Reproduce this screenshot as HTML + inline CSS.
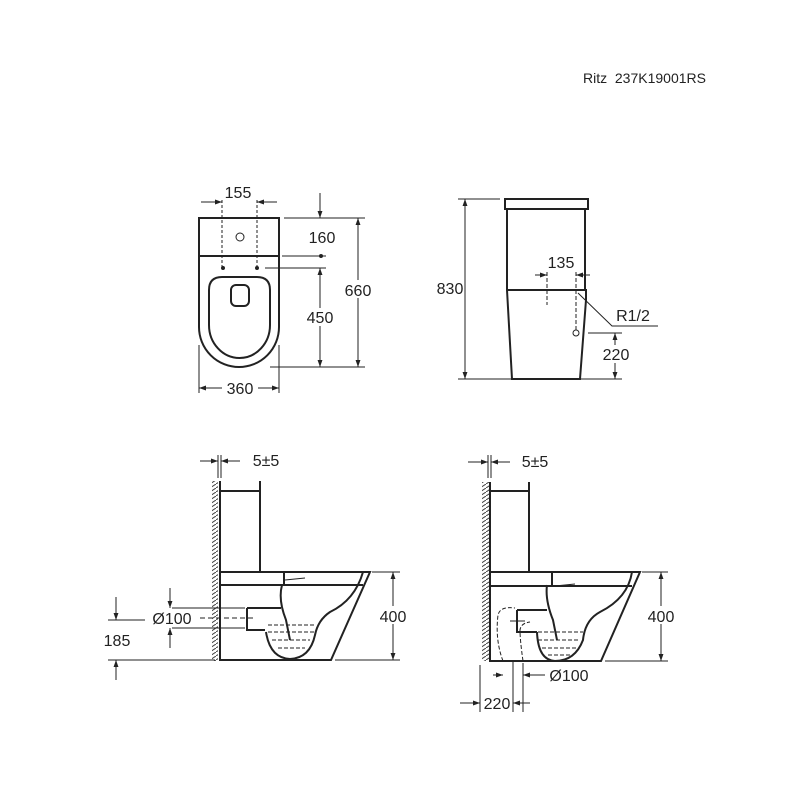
<!DOCTYPE html>
<html><head><meta charset="utf-8"><style>
html,body{margin:0;padding:0;background:#fff}
svg{display:block}
text{font-family:"Liberation Sans",Arial,sans-serif;fill:#222}
</style></head><body>
<svg width="800" height="800" viewBox="0 0 800 800" xmlns="http://www.w3.org/2000/svg">
<defs>
<marker id="a" viewBox="0 0 10 10" refX="10" refY="5" markerWidth="7" markerHeight="7" orient="auto-start-reverse"><path d="M0,1.5L10,5L0,8.5z" fill="#222"/></marker>
<pattern id="h" width="6" height="4" patternUnits="userSpaceOnUse"><path d="M0,4L6,0" stroke="#444" stroke-width="1"/></pattern>
</defs>
<text x="583" y="83" font-size="14" style="white-space:pre">Ritz  237K19001RS</text>

<g stroke="#222" fill="none" stroke-width="1">
<!-- Top view -->
<g stroke-width="2">
<path d="M199,218H279V327A40,40 0 0 1 199,327Z"/>
<line x1="199" y1="256" x2="279" y2="256"/>
<path d="M209,325V290Q209,277 222,277H257Q270,277 270,290V325A30.5,33 0 0 1 209,325Z"/>
<rect x="231" y="285" width="18" height="21" rx="5"/>
</g>
<circle cx="240" cy="237" r="4"/>
<path d="M222,200V268M257,200V268" stroke-dasharray="3,2"/>
<circle cx="223" cy="268" r="1.5" fill="#222"/><circle cx="257" cy="268" r="1.5" fill="#222"/>
<circle cx="321" cy="256" r="1.5" fill="#222"/>
<line x1="201" y1="202" x2="222" y2="202" marker-end="url(#a)"/>
<line x1="277" y1="202" x2="257" y2="202" marker-end="url(#a)"/>
<line x1="284" y1="218" x2="365" y2="218"/>
<line x1="282" y1="256" x2="326" y2="256"/>
<line x1="265" y1="268" x2="326" y2="268"/>
<line x1="270" y1="367" x2="365" y2="367"/>
<line x1="320" y1="193" x2="320" y2="218" marker-end="url(#a)"/>
<line x1="320" y1="268" x2="320" y2="367" marker-start="url(#a)" marker-end="url(#a)"/>
<line x1="358" y1="218" x2="358" y2="367" marker-start="url(#a)" marker-end="url(#a)"/>
<line x1="199" y1="345" x2="199" y2="393"/><line x1="279" y1="345" x2="279" y2="393"/>
<line x1="199" y1="388" x2="279" y2="388" marker-start="url(#a)" marker-end="url(#a)"/>

<!-- Side view -->
<g stroke-width="2">
<rect x="505" y="199" width="83" height="10"/>
<path d="M507,209V290L512,379H580L586,300V290H507M585,209V290"/>
</g>
<path d="M547,272V305M576,272V330" stroke-dasharray="4,2"/>
<circle cx="576" cy="333" r="3"/>
<line x1="535" y1="275" x2="547" y2="275" marker-end="url(#a)"/>
<line x1="590" y1="275" x2="576" y2="275" marker-end="url(#a)"/>
<path d="M578,293L612,326H658"/>
<line x1="458" y1="199" x2="500" y2="199"/><line x1="458" y1="379" x2="622" y2="379"/>
<line x1="465" y1="199" x2="465" y2="379" marker-start="url(#a)" marker-end="url(#a)"/>
<line x1="588" y1="333" x2="622" y2="333"/>
<line x1="615" y1="333" x2="615" y2="379" marker-start="url(#a)" marker-end="url(#a)"/>

<!-- Bottom left -->
<rect x="212" y="481" width="6" height="180" fill="url(#h)" stroke="none"/>
<g stroke-width="2">
<path d="M220,481V660H331L370,572H220M220,585H363M260,481V572M220,491H260"/>
<path d="M363,572Q355,600 330,612Q318,620 315,635Q310,658 290,659Q270,658 266,632M284,572V585M282,585Q278,600 286,620L290,640"/>
<path d="M247,608H281M247,608V630H265"/>
</g>
<path d="M268,625H316M268,632H314M272,640H310M278,648H305" stroke-dasharray="4,2"/>
<path d="M285,580L305,578"/>
<line x1="172" y1="608" x2="245" y2="608"/><line x1="172" y1="628" x2="245" y2="628"/>
<line x1="200" y1="618" x2="255" y2="618" stroke-dasharray="5,3"/>
<line x1="170" y1="588" x2="170" y2="608" marker-end="url(#a)"/>
<line x1="170" y1="648" x2="170" y2="628" marker-end="url(#a)"/>
<line x1="108" y1="620" x2="145" y2="620"/><line x1="108" y1="660" x2="215" y2="660"/>
<line x1="116" y1="597" x2="116" y2="620" marker-end="url(#a)"/>
<line x1="116" y1="680" x2="116" y2="660" marker-end="url(#a)"/>
<line x1="372" y1="572" x2="400" y2="572"/><line x1="335" y1="660" x2="400" y2="660"/>
<line x1="393" y1="572" x2="393" y2="660" marker-start="url(#a)" marker-end="url(#a)"/>
<line x1="218" y1="455" x2="218" y2="478"/><line x1="221" y1="455" x2="221" y2="478"/>
<line x1="200" y1="461" x2="218" y2="461" marker-end="url(#a)"/>
<line x1="240" y1="461" x2="221" y2="461" marker-end="url(#a)"/>

<!-- Bottom right -->
<rect x="482" y="482" width="7" height="179" fill="url(#h)" stroke="none"/>
<g stroke-width="2">
<path d="M490,482V661H601L640,572H490M490,586H632M529,482V572M490,491H529"/>
<path d="M632,572Q628,598 600,612Q585,620 583,640Q575,661 555,661Q538,660 537,632M552,572V585M547,585Q545,600 553,620L557,640"/>
<path d="M517,610H547M517,610V632H537"/>
</g>
<path d="M538,632H583M538,640H580M542,648H576M548,655H570" stroke-dasharray="4,2"/>
<path d="M555,586L575,584"/>
<path d="M503,661Q495,640 498,615Q500,606 515,608M523,661Q520,640 520,630Q521,623 530,622" stroke-dasharray="4,2"/>
<path d="M510,621H525M517,614V628"/>
<line x1="488" y1="455" x2="488" y2="478"/><line x1="491" y1="455" x2="491" y2="478"/>
<line x1="468" y1="462" x2="488" y2="462" marker-end="url(#a)"/>
<line x1="510" y1="462" x2="491" y2="462" marker-end="url(#a)"/>
<line x1="642" y1="572" x2="668" y2="572"/><line x1="605" y1="661" x2="668" y2="661"/>
<line x1="661" y1="572" x2="661" y2="661" marker-start="url(#a)" marker-end="url(#a)"/>
<line x1="513" y1="661" x2="513" y2="712"/><line x1="523" y1="663" x2="523" y2="712"/>
<line x1="480" y1="665" x2="480" y2="712"/>
<line x1="493" y1="675" x2="503" y2="675" marker-end="url(#a)"/>
<line x1="545" y1="675" x2="523" y2="675" marker-end="url(#a)"/>
<line x1="460" y1="703" x2="480" y2="703" marker-end="url(#a)"/>
<line x1="530" y1="703" x2="513" y2="703" marker-end="url(#a)"/>
</g>

<g font-size="16">
<text x="238" y="198" text-anchor="middle">155</text>
<text x="322" y="243" text-anchor="middle">160</text>
<rect x="340" y="280" width="36" height="18" fill="#fff"/>
<text x="358" y="296" text-anchor="middle">660</text>
<rect x="302" y="308" width="36" height="18" fill="#fff"/>
<text x="320" y="323" text-anchor="middle">450</text>
<rect x="222" y="380" width="36" height="16" fill="#fff"/>
<text x="240" y="394" text-anchor="middle">360</text>
<text x="450" y="294" text-anchor="middle">830</text>
<text x="561" y="268" text-anchor="middle">135</text>
<text x="633" y="321" text-anchor="middle">R1/2</text>
<rect x="598" y="345" width="36" height="18" fill="#fff"/>
<text x="616" y="360" text-anchor="middle">220</text>
<text x="266" y="466" text-anchor="middle">5±5</text>
<text x="172" y="624" text-anchor="middle">Ø100</text>
<text x="117" y="646" text-anchor="middle">185</text>
<rect x="375" y="606" width="36" height="18" fill="#fff"/>
<text x="393" y="622" text-anchor="middle">400</text>
<text x="535" y="467" text-anchor="middle">5±5</text>
<rect x="643" y="606" width="36" height="18" fill="#fff"/>
<text x="661" y="622" text-anchor="middle">400</text>
<text x="569" y="681" text-anchor="middle">Ø100</text>
<text x="497" y="709" text-anchor="middle">220</text>
</g>
</svg>
</body></html>
